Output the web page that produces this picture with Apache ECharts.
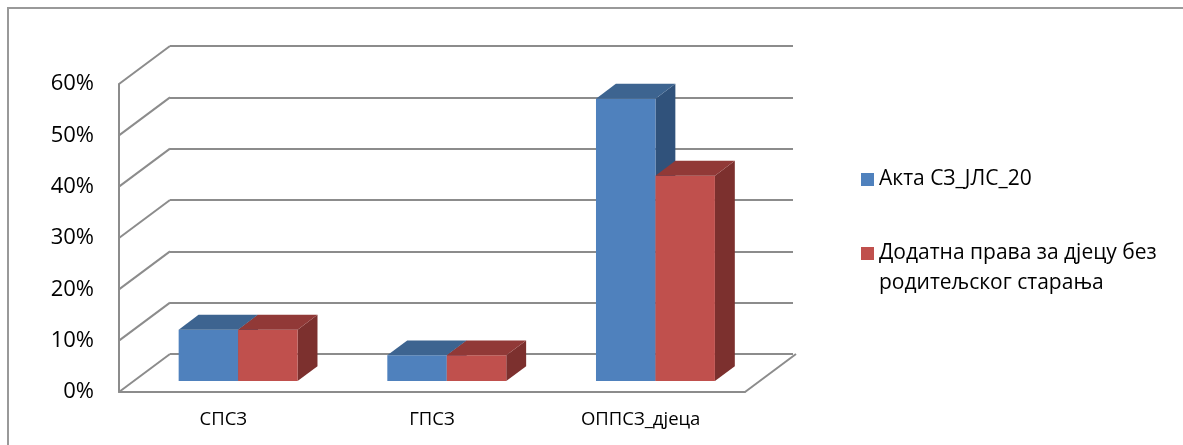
<!DOCTYPE html>
<html>
<head>
<meta charset="utf-8">
<script src="https://cdn.jsdelivr.net/npm/echarts@6/dist/echarts.min.js"></script>
<style>
html, body { margin: 0; padding: 0; background: #fff; }
#main { width: 1183px; height: 445px; }
</style>
</head>
<body>
<div id="main"></div>
<script>
// podaci (u procentima)
var categories = ['СПСЗ', 'ГПСЗ', 'ОППСЗ_дјеца'];
var seriesNames = ['Акта СЗ_ЈЛС_20', 'Додатна права за дјецу без родитељског старања'];
var aktaValues = [10, 5, 55];
var pravaValues = [10, 5, 40];
var yTicks = [0, 10, 20, 30, 40, 50, 60];

var FONT = '"Open Sans", sans-serif';
var LINE = '#8c8c8c';

// pomak zadnjeg zida u odnosu na prednju ravan
var WALL_DX = 51, WALL_DY = -38;
// polozaj i dubina stubica (dio dubine)
var BAR_SHIFT = 0.29, BAR_DEPTH = 0.39, BAR_W = 0.285;

var chart = echarts.init(document.getElementById('main'));

// kose linije lijevog zida i poda
function wallItem(params, api) {
	var v = api.value(1);
	var cs = params.coordSys;
	var p = api.coord([0, v]);
	var style = { stroke: LINE, lineWidth: 2 };
	var children = [{
		type : 'line',
		shape : { x1 : cs.x, y1 : p[1], x2 : cs.x + WALL_DX, y2 : p[1] + WALL_DY },
		style : style
	}];
	if (v === 0) {
		children.push({
			type : 'line',
			shape : { x1 : cs.x + cs.width, y1 : p[1], x2 : cs.x + cs.width + WALL_DX, y2 : p[1] + WALL_DY },
			style : style
		});
	}
	return { type : 'group', children : children };
}

// 3D stubic: prednja strana, vrh, desna strana
function boxItem(side, front, top, right) {
	return function(params, api) {
		var i = api.value(0), v = api.value(1);
		var base = api.coord([i, 0]);
		var peak = api.coord([i, v]);
		var band = api.size([1, 0])[0];
		var w = band * BAR_W;
		var sx = WALL_DX * BAR_SHIFT, sy = WALL_DY * BAR_SHIFT;
		var dx = WALL_DX * BAR_DEPTH, dy = WALL_DY * BAR_DEPTH;
		var x0 = base[0] + (side === 0 ? -w : 0) + sx;
		var yt = peak[1] + sy, yb = base[1] + sy;
		return {
			type : 'group',
			children : [{
				type : 'polygon',
				shape : { points : [[x0 + w, yt], [x0 + w + dx, yt + dy], [x0 + w + dx, yb + dy], [x0 + w, yb]] },
				style : { fill : right }
			}, {
				type : 'rect',
				shape : { x : x0, y : yt, width : w, height : yb - yt },
				style : { fill : front }
			}, {
				type : 'polygon',
				shape : { points : [[x0, yt], [x0 + w, yt], [x0 + w + dx, yt + dy], [x0 + dx, yt + dy]] },
				style : { fill : top }
			}]
		};
	};
}

function pairs(values) {
	return values.map(function(v, i) { return [i, v]; });
}

var option = {
	animation : false,
	textStyle : { fontFamily : FONT },
	graphic : [{
		type : 'rect',
		x : 8, y : 8,
		shape : { x : 0, y : 0, width : 1200, height : 460 },
		style : { fill : 'none', stroke : '#999', lineWidth : 2 },
		silent : true
	}],
	legend : {
		orient : 'vertical',
		left : 861,
		top : 169,
		padding : 0,
		itemWidth : 13,
		itemHeight : 13,
		itemGap : 23,
		icon : 'rect',
		data : seriesNames,
		textStyle : {
			color : '#000',
			rich : {
				g : { fontSize : 21, lineHeight : 30, fontFamily : FONT },
				t : { fontSize : 21, lineHeight : 30, color : '#000', fontFamily : FONT }
			}
		},
		// drugi naziv u dva reda, kvadratic uz prvi red
		formatter : function(name) {
			var lines = name.replace(' родитељског', '\nродитељског').split('\n');
			var txt = lines.map(function(l) { return '{t|' + l + '}'; }).join('\n');
			return lines.length > 1 ? '{g| }\n' + txt : txt;
		}
	},
	grid : [{
		left : 119, top : 84, width : 626, height : 308
	}, {
		left : 170, top : 46, width : 623, height : 308
	}],
	xAxis : [{
		gridIndex : 0,
		type : 'category',
		data : categories,
		axisLine : { lineStyle : { color : LINE, width : 2 } },
		axisTick : { show : false },
		axisLabel : { margin : 18, fontSize : 18.5, color : '#000' }
	}, {
		gridIndex : 1,
		type : 'category',
		data : categories,
		show : false
	}],
	yAxis : [{
		gridIndex : 0,
		type : 'value',
		min : 0, max : 60, interval : 10,
		axisLine : { show : true, lineStyle : { color : LINE, width : 2 } },
		axisTick : { show : false },
		splitLine : { show : false },
		axisLabel : { formatter : '{value}%', margin : 25, fontSize : 22, color : '#000' }
	}, {
		gridIndex : 1,
		type : 'value',
		min : 0, max : 60, interval : 10,
		axisLine : { show : false },
		axisTick : { show : false },
		axisLabel : { show : false },
		splitLine : { show : true, lineStyle : { color : LINE, width : 2 } }
	}],
	series : [{
		type : 'custom',
		name : 'wall',
		silent : true,
		xAxisIndex : 0, yAxisIndex : 0,
		z : 1,
		renderItem : wallItem,
		data : yTicks.map(function(t) { return [0, t]; })
	}, {
		type : 'custom',
		name : seriesNames[0],
		xAxisIndex : 0, yAxisIndex : 0,
		z : 3,
		itemStyle : { color : '#4F81BD' },
		renderItem : boxItem(0, '#4F81BD', '#3D6490', '#30527B'),
		data : pairs(aktaValues)
	}, {
		type : 'custom',
		name : seriesNames[1],
		xAxisIndex : 0, yAxisIndex : 0,
		z : 3,
		itemStyle : { color : '#C0504D' },
		renderItem : boxItem(1, '#C0504D', '#913937', '#7C302E'),
		data : pairs(pravaValues)
	}]
};

chart.setOption(option);
</script>
</body>
</html>
